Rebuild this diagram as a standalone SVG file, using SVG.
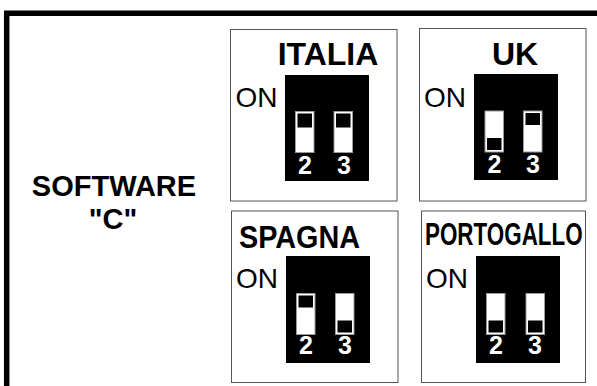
<svg xmlns="http://www.w3.org/2000/svg" width="597" height="386" viewBox="0 0 597 386">
<style>
.frame{fill:none;stroke:#000;stroke-width:5.5}
.box{fill:#fff;stroke:#555;stroke-width:1}
.blk{fill:#000}
.sw{fill:#fff;stroke:#999;stroke-width:1}
.sl{fill:#000}
.t{font-family:"Liberation Sans",Arial,sans-serif;font-weight:bold;font-size:32px;fill:#000}
.on{font-family:"Liberation Sans",Arial,sans-serif;font-size:28px;fill:#000}
.num{font-family:"Liberation Sans",Arial,sans-serif;font-weight:bold;font-size:25px;fill:#fff;text-anchor:middle}
.sw-t{font-family:"Liberation Sans",Arial,sans-serif;font-weight:bold;font-size:29px;fill:#000;text-anchor:middle}
</style>
<rect width="597" height="386" fill="#fff"/>
<path class="frame" d="M6.7,390 V13.3 H600"/>
<g id="software">
<text class="sw-t" x="114" y="195.5">SOFTWARE</text>
<text class="sw-t" x="113" y="228.5">"C"</text>
</g>
<g id="italia">
<rect class="box" x="230.5" y="29.5" width="166.5" height="171.5"/>
<text class="t" x="328" y="65" text-anchor="middle">ITALIA</text>
<text class="on" x="235.5" y="107">ON</text>
<rect class="blk" x="285" y="75" width="84" height="106"/>
<rect class="sw" x="295.5" y="111.5" width="18.5" height="41"/>
<rect class="sl" x="297.5" y="113.5" width="14.5" height="14"/>
<rect class="sw" x="334" y="111.5" width="18.5" height="41"/>
<rect class="sl" x="336" y="113.5" width="14.5" height="14"/>
<text class="num" x="305" y="174">2</text>
<text class="num" x="344" y="174">3</text>
</g>
<g id="uk">
<rect class="box" x="419.5" y="28.5" width="166.5" height="172.5"/>
<text class="t" x="515" y="65" text-anchor="middle">UK</text>
<text class="on" x="424" y="107">ON</text>
<rect class="blk" x="474" y="74" width="84" height="106"/>
<rect class="sw" x="485" y="111" width="18.5" height="41"/>
<rect class="sl" x="487" y="138" width="14.5" height="12"/>
<rect class="sw" x="523.5" y="111" width="18.5" height="41"/>
<rect class="sl" x="525.5" y="113" width="14.5" height="12"/>
<text class="num" x="494.5" y="173">2</text>
<text class="num" x="533" y="173">3</text>
</g>
<g id="spagna">
<rect class="box" x="231.5" y="211" width="166.5" height="171.5"/>
<text class="t" transform="translate(239,248) scale(0.9,1)" x="0" y="0">SPAGNA</text>
<text class="on" x="236" y="288">ON</text>
<rect class="blk" x="286" y="256" width="84" height="107"/>
<rect class="sw" x="296.5" y="293.5" width="18.5" height="41"/>
<rect class="sl" x="298.5" y="295.5" width="14.5" height="12"/>
<rect class="sw" x="335.5" y="293.5" width="18.5" height="41"/>
<rect class="sl" x="337.5" y="320.5" width="14.5" height="12"/>
<text class="num" x="306" y="354">2</text>
<text class="num" x="345" y="354">3</text>
</g>
<g id="portogallo">
<rect class="box" x="421.5" y="211" width="164" height="171.5"/>
<text class="t" transform="translate(425,245) scale(0.7,1)" x="0" y="0" font-size="29">PORTOGALLO</text>
<text class="on" x="426" y="288">ON</text>
<rect class="blk" x="476" y="256" width="84" height="107"/>
<rect class="sw" x="486.5" y="293.5" width="18.5" height="41"/>
<rect class="sl" x="488.5" y="320.5" width="14.5" height="12"/>
<rect class="sw" x="526" y="293.5" width="18.5" height="41"/>
<rect class="sl" x="528" y="320.5" width="14.5" height="12"/>
<text class="num" x="496" y="354">2</text>
<text class="num" x="535" y="354">3</text>
</g>
<g id="connectors"></g>
</svg>
